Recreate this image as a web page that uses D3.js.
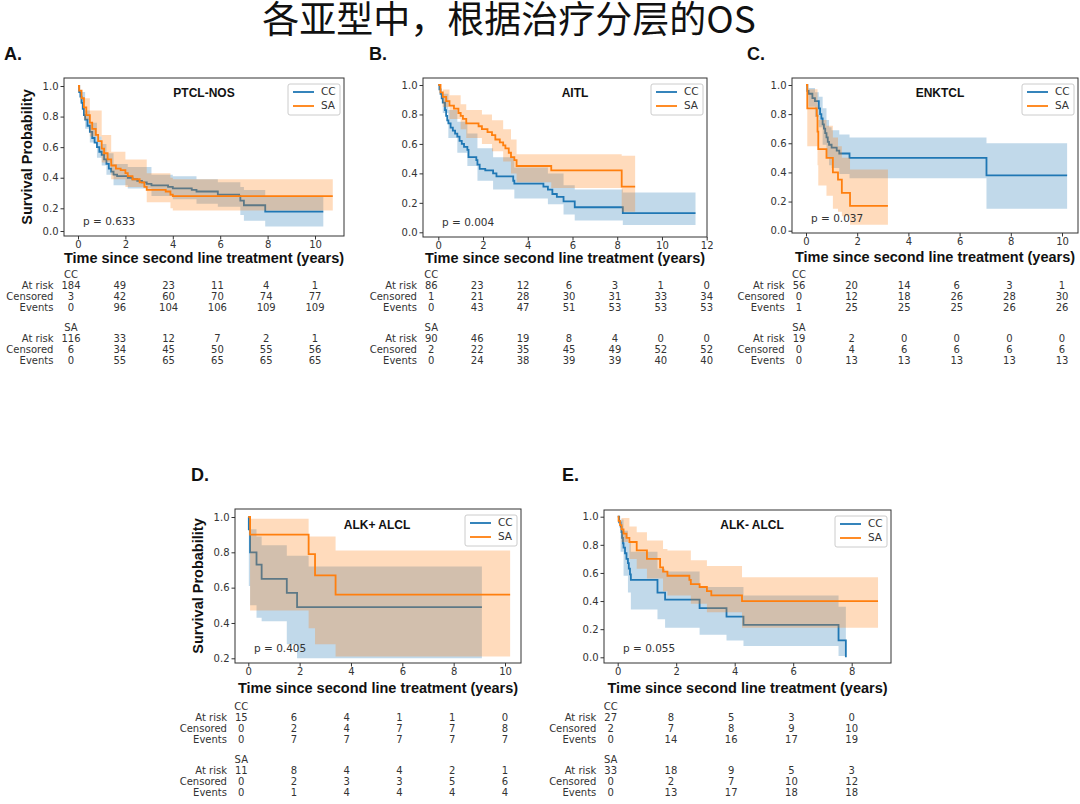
<!DOCTYPE html>
<html><head><meta charset="utf-8">
<script src="https://cdn.jsdelivr.net/npm/d3@7"></script>
<style>body{margin:0;background:#fff;} svg{display:block;}</style>
</head><body>
<svg id="c" width="1080" height="804"></svg>
<script>
// ---------------- DATA ----------------
const groups = ["CC", "SA"];
const rowNames = ["At risk", "Censored", "Events"];
const pValues = ["0.633", "0.004", "0.037", "0.405", "0.055"];
const subtypes = ["PTCL-NOS", "AITL", "ENKTCL", "ALK+ ALCL", "ALK- ALCL"];
const panelLetters = ["A.", "B.", "C.", "D.", "E."];

const xTicksA = [0, 2, 4, 6, 8, 10];
const xTicksB = [0, 2, 4, 6, 8, 10, 12];
const xTicksC = [0, 2, 4, 6, 8, 10];
const xTicksD = [0, 2, 4, 6, 8, 10];
const xTicksE = [0, 2, 4, 6, 8];
const yTicksFull = [0, 0.2, 0.4, 0.6, 0.8, 1.0];
const yTicksD = [0.2, 0.4, 0.6, 0.8, 1.0];

// Kaplan-Meier steps [time, survival]; last entry = end of follow-up
const kmA_CC = [[0,1],[0.05,0.96],[0.1,0.93],[0.15,0.89],[0.2,0.85],[0.25,0.81],[0.3,0.78],[0.4,0.74],[0.5,0.70],[0.6,0.66],[0.7,0.63],[0.8,0.60],[0.9,0.57],[1.0,0.55],[1.1,0.52],[1.2,0.49],[1.3,0.46],[1.4,0.44],[1.5,0.42],[1.65,0.41],[2.1,0.40],[2.3,0.39],[2.5,0.38],[2.7,0.37],[2.9,0.36],[3.1,0.35],[3.8,0.34],[4.0,0.33],[4.8,0.32],[5.0,0.31],[5.9,0.29],[6.8,0.28],[6.85,0.25],[7.0,0.22],[7.9,0.17],[10.35,0.17]];
const ciA_CC = [[0,1,1],[0.1,0.89,0.96],[0.3,0.72,0.84],[0.5,0.63,0.76],[0.8,0.53,0.67],[1.0,0.48,0.62],[1.2,0.42,0.56],[1.5,0.35,0.49],[2.1,0.33,0.47],[3.1,0.28,0.42],[4.0,0.26,0.41],[5.0,0.23,0.39],[5.9,0.21,0.37],[6.85,0.14,0.34],[7.0,0.09,0.32],[7.9,0.04,0.28],[10.35,0.04,0.28]];
const kmA_SA = [[0,1],[0.05,0.97],[0.15,0.92],[0.25,0.86],[0.35,0.81],[0.5,0.76],[0.6,0.72],[0.75,0.68],[0.85,0.64],[1.0,0.59],[1.1,0.56],[1.25,0.52],[1.4,0.48],[1.6,0.46],[1.8,0.45],[2.0,0.43],[2.1,0.41],[2.3,0.39],[2.6,0.37],[2.8,0.34],[2.9,0.32],[3.7,0.31],[3.9,0.29],[4.0,0.28],[10.75,0.28]];
const ciA_SA = [[0,1,1],[0.25,0.78,0.92],[0.5,0.67,0.84],[1.0,0.50,0.68],[1.4,0.39,0.57],[2.0,0.34,0.52],[2.9,0.24,0.43],[3.9,0.20,0.40],[4.0,0.18,0.39],[10.75,0.18,0.39]];

const kmB_CC = [[0,1],[0.05,0.97],[0.1,0.94],[0.15,0.91],[0.2,0.88],[0.3,0.83],[0.35,0.79],[0.4,0.76],[0.45,0.74],[0.55,0.71],[0.65,0.69],[0.75,0.67],[0.85,0.65],[0.95,0.62],[1.05,0.60],[1.15,0.58],[1.3,0.56],[1.35,0.51],[1.7,0.49],[1.75,0.46],[1.85,0.43],[2.1,0.42],[2.45,0.40],[2.6,0.38],[3.35,0.35],[3.4,0.33],[4.7,0.31],[4.9,0.29],[5.1,0.26],[5.3,0.24],[5.6,0.21],[6.1,0.17],[8.25,0.13],[11.5,0.13]];
const ciB_CC = [[0,1,1],[0.2,0.81,0.94],[0.45,0.64,0.83],[0.85,0.54,0.75],[1.3,0.45,0.67],[1.75,0.35,0.57],[2.45,0.29,0.51],[3.4,0.23,0.44],[4.9,0.19,0.40],[5.6,0.12,0.32],[6.1,0.08,0.29],[8.25,0.05,0.27],[11.5,0.05,0.27]];
const kmB_SA = [[0,1],[0.1,0.95],[0.2,0.92],[0.35,0.89],[0.5,0.86],[0.7,0.84],[0.9,0.81],[1.0,0.79],[1.1,0.77],[1.25,0.74],[1.8,0.72],[1.95,0.70],[2.2,0.68],[2.4,0.66],[2.55,0.63],[2.75,0.61],[2.9,0.59],[3.0,0.57],[3.15,0.54],[3.25,0.51],[3.4,0.49],[3.5,0.45],[5.05,0.42],[8.2,0.31],[8.8,0.31]];
const ciB_SA = [[0,1,1],[0.2,0.85,0.97],[0.5,0.77,0.93],[1.0,0.70,0.87],[1.25,0.64,0.83],[1.95,0.60,0.80],[2.4,0.55,0.76],[2.9,0.48,0.70],[3.25,0.40,0.63],[3.5,0.34,0.53],[5.05,0.30,0.53],[8.2,0.14,0.52],[8.8,0.14,0.52]];

const kmC_CC = [[0,1],[0.05,0.96],[0.1,0.94],[0.25,0.91],[0.35,0.89],[0.5,0.84],[0.55,0.80],[0.6,0.77],[0.65,0.73],[0.7,0.70],[0.75,0.67],[0.8,0.64],[0.85,0.61],[0.9,0.59],[1.0,0.57],[1.2,0.55],[1.3,0.53],[1.7,0.50],[7.05,0.38],[10.2,0.38]];
const ciC_CC = [[0,1,1],[0.1,0.85,0.98],[0.35,0.78,0.95],[0.5,0.71,0.92],[0.65,0.59,0.84],[0.8,0.50,0.76],[0.9,0.45,0.71],[1.0,0.43,0.69],[1.3,0.39,0.66],[1.7,0.36,0.64],[7.05,0.15,0.60],[10.2,0.15,0.60]];
const kmC_SA = [[0,1],[0.05,0.84],[0.42,0.79],[0.45,0.68],[0.48,0.56],[0.8,0.50],[1.05,0.40],[1.25,0.35],[1.4,0.26],[1.72,0.17],[3.2,0.17]];
const ciC_SA = [[0,1,1],[0.05,0.58,0.97],[0.45,0.45,0.86],[0.48,0.31,0.76],[0.8,0.24,0.72],[1.05,0.15,0.64],[1.25,0.13,0.58],[1.4,0.10,0.50],[1.72,0.04,0.42],[3.2,0.04,0.42]];

const kmD_CC = [[0,1],[0.02,0.93],[0.07,0.80],[0.32,0.73],[0.52,0.65],[1.5,0.57],[1.9,0.49],[9.1,0.49]];
const ciD_CC = [[0,1,1],[0.02,0.61,0.99],[0.07,0.50,0.93],[0.32,0.43,0.89],[0.52,0.41,0.84],[1.5,0.28,0.78],[1.9,0.20,0.78],[2.35,0.20,0.72],[9.1,0.20,0.72]];
const kmD_SA = [[0,1],[0.07,0.90],[2.35,0.79],[2.6,0.67],[3.4,0.56],[10.2,0.56]];
const ciD_SA = [[0,1,1],[0.07,0.47,0.99],[2.35,0.37,0.89],[2.6,0.28,0.89],[3.4,0.21,0.81],[10.2,0.21,0.81]];

const kmE_CC = [[0,1],[0.05,0.96],[0.1,0.93],[0.13,0.89],[0.15,0.85],[0.18,0.81],[0.2,0.78],[0.25,0.74],[0.3,0.70],[0.35,0.67],[0.38,0.63],[0.42,0.59],[0.45,0.55],[1.36,0.46],[1.62,0.41],[2.8,0.35],[3.72,0.29],[4.3,0.23],[7.55,0.12],[7.8,0.0],[7.8,0.0]];
const ciE_CC = [[0,1,1],[0.1,0.75,0.98],[0.2,0.58,0.90],[0.35,0.46,0.82],[0.45,0.34,0.75],[1.36,0.27,0.63],[1.62,0.21,0.61],[2.8,0.16,0.50],[3.72,0.12,0.50],[4.3,0.08,0.44],[7.55,0.01,0.36],[7.8,0.01,0.36]];
const kmE_SA = [[0,1],[0.03,0.97],[0.08,0.94],[0.13,0.91],[0.2,0.88],[0.3,0.85],[0.4,0.82],[0.65,0.76],[1.0,0.70],[1.45,0.64],[1.55,0.61],[1.7,0.58],[2.45,0.55],[2.5,0.52],[2.8,0.50],[3.05,0.47],[3.2,0.44],[4.25,0.40],[8.9,0.40]];
const ciE_SA = [[0,1,1],[0.13,0.82,0.99],[0.4,0.70,0.93],[0.65,0.63,0.89],[1.0,0.56,0.83],[1.55,0.47,0.77],[1.7,0.44,0.76],[2.5,0.38,0.69],[3.05,0.32,0.65],[4.25,0.21,0.57],[8.9,0.21,0.57]];

// At-risk tables: rows = at risk, censored, events
const tabA_CC = [[184,49,23,11,4,1],[3,42,60,70,74,77],[0,96,104,106,109,109]];
const tabA_SA = [[116,33,12,7,2,1],[6,34,45,50,55,56],[0,55,65,65,65,65]];
const tabB_CC = [[86,23,12,6,3,1,0],[1,21,28,30,31,33,34],[0,43,47,51,53,53,53]];
const tabB_SA = [[90,46,19,8,4,0,0],[2,22,35,45,49,52,52],[0,24,38,39,39,40,40]];
const tabC_CC = [[56,20,14,6,3,1],[0,12,18,26,28,30],[1,25,25,25,26,26]];
const tabC_SA = [[19,2,0,0,0,0],[0,4,6,6,6,6],[0,13,13,13,13,13]];
const tabD_CC = [[15,6,4,1,1,0],[0,2,4,7,7,8],[0,7,7,7,7,7]];
const tabD_SA = [[11,8,4,4,2,1],[0,2,3,3,5,6],[0,1,4,4,4,4]];
const tabE_CC = [[27,8,5,3,0],[2,7,8,9,10],[0,14,16,17,19]];
const tabE_SA = [[33,18,9,5,3],[0,2,7,10,12],[0,13,17,18,18]];

// ---------------- LAYOUT ----------------
const COLORS = {CC: "#1f77b4", SA: "#ff7f0e"};
const panels = [
  {i:0, frame:[64,344,78,236], xr:[78,315], yd:[0,0.2,1], yr:[231,208.3,86], xTicks:xTicksA, yTicks:yTicksFull, ylabel:true, tableTop:275, xlabY:259, title:[204,94], letter:[4,60],
   km:{CC:kmA_CC, SA:kmA_SA}, ci:{CC:ciA_CC, SA:ciA_SA}, tab:{CC:tabA_CC, SA:tabA_SA}},
  {i:1, frame:[423,707,78,237], xr:[438.3,706.7], yd:[0,1], yr:[232.3,85], xTicks:xTicksB, yTicks:yTicksFull, ylabel:false, tableTop:275, xlabY:259, title:[575,94], letter:[369,60],
   km:{CC:kmB_CC, SA:kmB_SA}, ci:{CC:ciB_CC, SA:ciB_SA}, tab:{CC:tabB_CC, SA:tabB_SA}},
  {i:2, frame:[792,1078,78,233], xr:[806,1062], yd:[0,1], yr:[230.7,85], xTicks:xTicksC, yTicks:yTicksFull, ylabel:false, tableTop:275, xlabY:258, title:[940,94], letter:[747,60],
   km:{CC:kmC_CC, SA:kmC_SA}, ci:{CC:ciC_CC, SA:ciC_SA}, tab:{CC:tabC_CC, SA:tabC_SA}},
  {i:3, frame:[235,521,509,663], xr:[248.3,505], yd:[0.2,1], yr:[658.3,517], xTicks:xTicksD, yTicks:yTicksD, ylabel:true, tableTop:707, xlabY:689, title:[377,526], letter:[191,481],
   km:{CC:kmD_CC, SA:kmD_SA}, ci:{CC:ciD_CC, SA:ciD_SA}, tab:{CC:tabD_CC, SA:tabD_SA}},
  {i:4, frame:[604,891,510,663], xr:[617.7,851.7], yd:[0,1], yr:[657.3,516.7], xTicks:xTicksE, yTicks:yTicksFull, ylabel:false, tableTop:707, xlabY:689, title:[752,526], letter:[562,481],
   km:{CC:kmE_CC, SA:kmE_SA}, ci:{CC:ciE_CC, SA:ciE_SA}, tab:{CC:tabE_CC, SA:tabE_SA}}
];
const rowOffsets = [10.5, 22, 33];
const groupOffset = 53;

const svg = d3.select("#c");
svg.append("text").attr("x", 509).attr("y", 33).attr("text-anchor", "middle")
  .attr("font-family", "'Noto Sans CJK SC', sans-serif").attr("font-size", 37).attr("fill", "#111")
  .text("各亚型中，根据治疗分层的OS");

const tickFont = "'DejaVu Sans', sans-serif";
const boldFont = "'Liberation Sans', Arial, sans-serif";

function drawPanel(P) {
  const [x0, x1, y0, y1] = P.frame;
  const last = P.xTicks[P.xTicks.length - 1];
  const x = d3.scaleLinear().domain([0, last]).range(P.xr);
  const y = d3.scaleLinear().domain(P.yd).range(P.yr);
  const g = svg.append("g");

  g.append("text").attr("x", P.letter[0]).attr("y", P.letter[1])
    .attr("font-family", boldFont).attr("font-weight", "bold").attr("font-size", 18).attr("fill", "#111")
    .text(panelLetters[P.i]);

  const clipId = "clip" + P.i;
  g.append("clipPath").attr("id", clipId).append("rect")
    .attr("x", x0).attr("y", y0).attr("width", x1 - x0).attr("height", y1 - y0);
  const plot = g.append("g").attr("clip-path", `url(#${clipId})`);

  const area = d3.area().curve(d3.curveStepAfter).x(d => x(d[0])).y0(d => y(d[1])).y1(d => y(d[2]));
  const line = d3.line().curve(d3.curveStepAfter).x(d => x(d[0])).y(d => y(d[1]));
  groups.forEach(k => {
    plot.append("path").attr("d", area(P.ci[k])).attr("fill", COLORS[k]).attr("fill-opacity", 0.28).attr("stroke", "none");
    plot.append("path").attr("d", line(P.km[k])).attr("fill", "none").attr("stroke", COLORS[k]).attr("stroke-width", 1.8);
  });

  // axes
  const xa = g.append("g").attr("transform", `translate(0,${y1})`)
    .call(d3.axisBottom(x).tickValues(P.xTicks).tickFormat(d3.format("d")).tickSize(3.5).tickPadding(1.5));
  const ya = g.append("g").attr("transform", `translate(${x0},0)`)
    .call(d3.axisLeft(y).tickValues(P.yTicks).tickFormat(d3.format(".1f")).tickSize(3.5).tickPadding(2));
  [xa, ya].forEach(a => {
    a.select(".domain").remove();
    a.selectAll("text").attr("font-family", tickFont).attr("font-size", 10).attr("fill", "#333");
    a.selectAll("line").attr("stroke", "#333");
  });
  g.append("rect").attr("x", x0).attr("y", y0).attr("width", x1 - x0).attr("height", y1 - y0)
    .attr("fill", "none").attr("stroke", "#333").attr("stroke-width", 1);

  // title & p-value
  g.append("text").attr("x", P.title[0]).attr("y", P.title[1]).attr("text-anchor", "middle").attr("dominant-baseline", "middle")
    .attr("font-family", boldFont).attr("font-weight", "bold").attr("font-size", 12).attr("fill", "#111").text(subtypes[P.i]);
  g.append("text").attr("x", x0 + 19).attr("y", y1 - 14).attr("dominant-baseline", "middle")
    .attr("font-family", tickFont).attr("font-size", 10.5).attr("fill", "#333").text("p = " + pValues[P.i]);

  // legend
  const lw = 52, lh = 31, lx = x1 - 4 - lw, ly = y0 + 6;
  g.append("rect").attr("x", lx).attr("y", ly).attr("width", lw).attr("height", lh).attr("rx", 2)
    .attr("fill", "#fff").attr("fill-opacity", 0.85).attr("stroke", "#ccc").attr("stroke-width", 1);
  groups.forEach((k, j) => {
    const yy = ly + 8 + j * 14;
    g.append("line").attr("x1", lx + 5).attr("x2", lx + 26).attr("y1", yy).attr("y2", yy)
      .attr("stroke", COLORS[k]).attr("stroke-width", 1.8);
    g.append("text").attr("x", lx + 33).attr("y", yy).attr("dominant-baseline", "middle")
      .attr("font-family", tickFont).attr("font-size", 10.5).attr("fill", "#333").text(k);
  });

  // axis labels
  g.append("text").attr("x", (x0 + x1) / 2).attr("y", P.xlabY).attr("text-anchor", "middle").attr("dominant-baseline", "middle")
    .attr("font-family", boldFont).attr("font-weight", "bold").attr("font-size", 14.5).attr("fill", "#111")
    .text("Time since second line treatment (years)");
  if (P.ylabel) {
    g.append("text").attr("transform", `translate(${x0 - 36},${(y0 + y1) / 2}) rotate(-90)`)
      .attr("text-anchor", "middle").attr("dominant-baseline", "middle")
      .attr("font-family", boldFont).attr("font-weight", "bold").attr("font-size", 14.5).attr("fill", "#111")
      .text("Survival Probability");
  }

  // at-risk table
  const tx = d3.scaleLinear().domain([0, last]).range([x(0) - 7, x(last)]);
  const tg = g.append("g").attr("font-family", tickFont).attr("font-size", 10).attr("fill", "#333");
  let maxW = 0;
  groups.forEach((k, gi) => {
    const top = P.tableTop + gi * groupOffset;
    tg.append("text").attr("x", tx(0)).attr("y", top).attr("text-anchor", "middle").attr("dominant-baseline", "middle").text(k);
    P.tab[k].forEach((row, ri) => {
      row.forEach((v, ci) => {
        const t = tg.append("text").attr("x", tx(P.xTicks[ci])).attr("y", top + rowOffsets[ri])
          .attr("text-anchor", "middle").attr("dominant-baseline", "middle").text(v);
        if (ci === 0) maxW = Math.max(maxW, t.node().getComputedTextLength());
      });
    });
  });
  groups.forEach((k, gi) => {
    const top = P.tableTop + gi * groupOffset;
    rowNames.forEach((nm, ri) => {
      tg.append("text").attr("x", tx(0) - maxW / 2 - 8).attr("y", top + rowOffsets[ri])
        .attr("text-anchor", "end").attr("dominant-baseline", "middle").text(nm);
    });
  });
}
panels.forEach(drawPanel);
</script>
</body></html>
